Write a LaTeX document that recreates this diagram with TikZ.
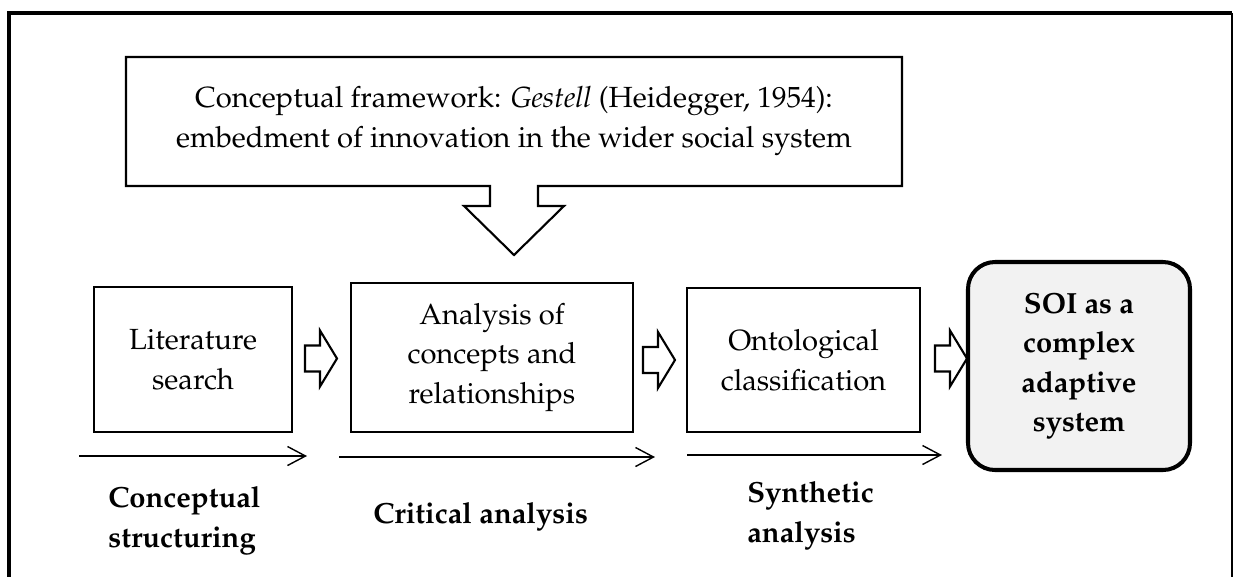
\documentclass[tikz,border=0pt]{standalone}
\usepackage[T1]{fontenc}
\usepackage{mathpazo}
\usetikzlibrary{arrows.meta,calc}

% one drawing unit = one pixel of the layout grid
\def\pu{0.02cm}

\tikzset{
  stagebox/.style={draw, line width=1.2pt, align=center, inner sep=0pt,
    font=\fontsize{16.6}{22.5}\selectfont},
  resultbox/.style={draw, line width=2.3pt, fill=black!5, rounded corners=0.54cm,
    align=center, inner sep=0pt, font=\fontsize{16.6}{22.5}\selectfont\bfseries},
  phaselabel/.style={align=left, inner sep=0pt,
    font=\fontsize{16.6}{22.5}\selectfont\bfseries},
  flow/.style={line width=0.8pt, -{Straight Barb[length=0.36cm, width=0.38cm, line width=0.8pt]}},
  blockarrow/.pic={
    \draw[line width=1.2pt, line join=miter]
      (0,-13) -- (15,-13) -- (15,-28) -- (32,0) -- (15,28) -- (15,13) -- (0,13) -- cycle;
  }
}

\begin{document}
\begin{tikzpicture}[x=\pu, y=-\pu]
\useasboundingbox (0,0) rectangle (1234,576);

% outer frame
\draw[line width=2.5pt, line join=miter] (9,600) -- (9,13) -- (1232,13);
\draw[line width=0.6pt] (1232,13) -- (1232,600);

% framework callout with its downward arrow
\node[align=center, inner sep=0pt, font=\fontsize{16.6}{22.5}\selectfont]
  (frame) at (514,121)
  {Conceptual framework: \textit{Gestell} (Heidegger, 1954):\\
   embedment of innovation in the wider social system};
\draw[line width=1.2pt, line join=miter]
  (126,57) -- (902,57) -- (902,186) -- (538,186) -- (538,206) -- (564,206)
  -- (514,255) -- (464,206) -- (490,206) -- (490,186) -- (126,186) -- cycle;

% process stages
\node[stagebox, minimum width={198*\pu}, minimum height={145*\pu}]
  (lit) at (193,359.5) {Literature\\search};
\node[stagebox, minimum width={282*\pu}, minimum height={149*\pu}]
  (ana) at (492,357.5) {Analysis of\\concepts and\\relationships};
\node[stagebox, minimum width={233*\pu}, minimum height={144*\pu}]
  (ont) at (803.5,360) {Ontological\\classification};
\node[resultbox, minimum width={222*\pu}, minimum height={208*\pu}]
  (soi) at (1079,366) {SOI as a\\complex\\adaptive\\system};

% block arrows between stages
\pic at (305,358.5) {blockarrow};
\pic at (643,360) {blockarrow};
\pic at (935,358.5) {blockarrow};

% phase arrows
\coordinate (p1s) at (79,456);
\coordinate (p1e) at (307,456);
\coordinate (p2s) at (339,457);
\coordinate (p2e) at (655,457);
\coordinate (p3s) at (687,455);
\coordinate (p3e) at (942,455);
\draw[flow] (p1s) -- (p1e);
\draw[flow] (p2s) -- (p2e);
\draw[flow] (p3s) -- (p3e);

% phase labels (base anchor sits on the last line)
\node[phaselabel, anchor=base west] (ph1) at (108,547) {Conceptual\\structuring};
\node[phaselabel, anchor=base west] (ph2) at (373,523) {Critical analysis};
\node[phaselabel, anchor=base west] (ph3) at (747,542) {Synthetic\\analysis};
\end{tikzpicture}
\end{document}
